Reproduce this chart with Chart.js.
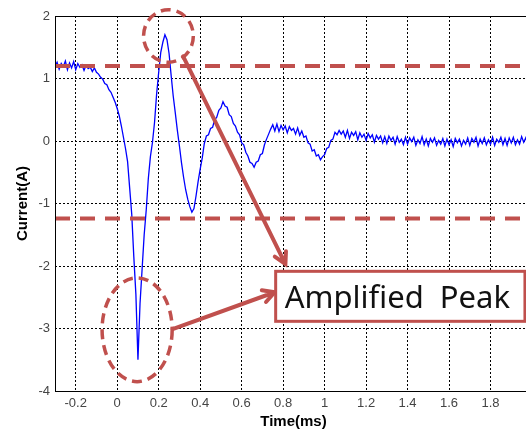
<!DOCTYPE html>
<html>
<head>
<meta charset="utf-8">
<script src="https://cdn.jsdelivr.net/npm/chart.js@4.4.0/dist/chart.umd.min.js"></script>
<style>
  html, body { margin: 0; padding: 0; background: #fff; overflow: hidden; }
  canvas { display: block; }
</style>
</head>
<body>
<canvas id="currentChart" width="540" height="434"></canvas>
<script>
// sampling grid of the trace (ms)
const tStart = -0.30;
const tStep = 0.01;

// Current(A), one value per sample
const current = [
  1.20, 1.26, 1.15, 1.24, 1.19, 1.28, 1.14, 1.25, 1.17, 1.27,
  1.14, 1.24, 1.18, 1.22, 1.13, 1.21, 1.16, 1.18, 1.11, 1.17,
  1.10, 1.07, 1.02, 0.99, 0.92, 0.90, 0.82, 0.78, 0.70, 0.62,
  0.52, 0.40, 0.24, 0.06, -0.12, -0.33, -0.75, -1.17, -1.85, -2.45,
  -3.50, -2.60, -2.05, -1.50, -1.10, -0.60, -0.25, -0.02, 0.30, 0.75,
  1.10, 1.42, 1.58, 1.70, 1.62, 1.40, 1.05, 0.72, 0.45, 0.17,
  -0.08, -0.35, -0.58, -0.78, -0.93, -1.05, -1.14, -1.08, -0.88, -0.65,
  -0.45, -0.27, -0.04, 0.08, 0.10, 0.20, 0.22, 0.34, 0.38, 0.49,
  0.53, 0.63, 0.56, 0.54, 0.42, 0.39, 0.28, 0.24, 0.14, 0.10,
  -0.03, -0.06, -0.18, -0.24, -0.34, -0.36, -0.42, -0.34, -0.32, -0.22,
  -0.20, -0.06, 0.03, 0.11, 0.19, 0.26, 0.16, 0.27, 0.15, 0.25,
  0.18, 0.24, 0.13, 0.23, 0.17, 0.20, 0.11, 0.21, 0.09, 0.16,
  0.06, 0.08, -0.03, -0.05, -0.16, -0.14, -0.24, -0.22, -0.30, -0.25,
  -0.22, -0.12, -0.10, 0.01, 0.03, 0.14, 0.10, 0.17, 0.11, 0.16,
  0.06, 0.17, 0.04, 0.14, 0.09, 0.15, 0.02, 0.13, 0.06, 0.11,
  0.01, 0.12, 0.05, 0.10, -0.02, 0.09, 0.03, 0.08, -0.03, 0.07,
  -0.04, 0.08, 0.01, 0.06, -0.05, 0.07, -0.02, 0.03, -0.06, 0.06,
  -0.05, 0.05, -0.01, 0.06, -0.07, 0.02, -0.04, 0.07, -0.06, 0.03,
  -0.08, 0.04, -0.02, 0.05, -0.07, 0.01, -0.05, 0.04, -0.08, 0.03,
  -0.06, 0.02, -0.09, 0.04, -0.03, 0.03, -0.08, 0.01, -0.05, 0.05,
  -0.07, 0.04, -0.02, 0.06, -0.08, 0.03, -0.04, 0.05, -0.06, 0.02,
  -0.05, 0.06, -0.07, 0.03, -0.02, 0.06, -0.06, 0.04, -0.07, 0.05,
  -0.03, 0.06, -0.06, 0.02, -0.05, 0.07, -0.02, 0.05, -0.06, 0.04,
  -0.01
];

// threshold levels (dashed red lines)
const limits = [1.2, -1.24];

// tick labels
const xTicks = [-0.2, 0, 0.2, 0.4, 0.6, 0.8, 1, 1.2, 1.4, 1.6, 1.8];
const yTicks = [-4, -3, -2, -1, 0, 1, 2];

const xMin = -0.3, xMax = 2.0;
const red = '#c0504d';

const trace = current.map((v, i) => ({ x: +(tStart + i * tStep).toFixed(2), y: v }));

// annotation shapes, in data units
const notes = {
  topRing: { x: 0.247, y: 1.68, rx: 0.12, ry: 0.42 },
  lowRing: { x: 0.096, y: -3.02, rx: 0.169, ry: 0.83 },
  arrows: [
    { x0: 0.318, y0: 1.355, x1: 0.811, y1: -1.97 },
    { x0: 0.267, y0: -3.01, x1: 0.759, y1: -2.42 }
  ],
  box: { x0: 0.764, x1: 1.966, y0: -2.085, y1: -2.885, label: 'Amplified Peak' }
};

const markup = {
  id: 'markup',
  afterDatasetsDraw(chart) {
    const { ctx, chartArea: a, scales: { x, y } } = chart;
    const px = v => x.getPixelForValue(v);
    const py = v => y.getPixelForValue(v);
    ctx.save();

    // axes frame
    ctx.setLineDash([]);
    ctx.strokeStyle = '#000';
    ctx.lineWidth = 1;
    ctx.strokeRect(Math.round(a.left) + 0.5, Math.round(a.top) + 0.5, a.width, a.height);

    ctx.strokeStyle = red;

    // dashed rings
    ctx.lineWidth = 3.5;
    ctx.setLineDash([10, 6]);
    [notes.topRing, notes.lowRing].forEach(r => {
      const cx = px(r.x), cy = py(r.y);
      const rx = px(r.x + r.rx) - cx, ry = cy - py(r.y + r.ry);
      ctx.beginPath();
      ctx.ellipse(cx, cy, rx, ry, 0, 0, Math.PI * 2);
      ctx.stroke();
    });

    // arrows
    ctx.setLineDash([]);
    ctx.lineWidth = 4;
    ctx.lineCap = 'round';
    notes.arrows.forEach(ar => {
      const x0 = px(ar.x0), y0 = py(ar.y0), x1 = px(ar.x1), y1 = py(ar.y1);
      const ang = Math.atan2(y1 - y0, x1 - x0);
      ctx.beginPath();
      ctx.moveTo(x0, y0);
      ctx.lineTo(x1, y1);
      ctx.moveTo(x1 - 13 * Math.cos(ang - 0.5), y1 - 13 * Math.sin(ang - 0.5));
      ctx.lineTo(x1, y1);
      ctx.lineTo(x1 - 13 * Math.cos(ang + 0.5), y1 - 13 * Math.sin(ang + 0.5));
      ctx.stroke();
    });

    // label box
    const b = notes.box;
    const bx = px(b.x0), by = py(b.y0), bw = px(b.x1) - bx, bh = py(b.y1) - by;
    ctx.fillStyle = '#fff';
    ctx.fillRect(bx, by, bw, bh);
    ctx.lineWidth = 3;
    ctx.lineCap = 'butt';
    ctx.strokeRect(bx, by, bw, bh);
    ctx.fillStyle = '#111';
    ctx.font = '31px "Noto Sans"';
    ctx.wordSpacing = '8px';
    ctx.textAlign = 'center';
    ctx.textBaseline = 'alphabetic';
    ctx.fillText(b.label, bx + bw / 2 - 3, by + bh / 2 + 11.5);

    ctx.restore();
  }
};

const tickFont = { family: '"Liberation Sans", Arial, sans-serif', size: 13 };
const titleFont = { family: '"Liberation Sans", Arial, sans-serif', size: 15, weight: 'bold' };

new Chart(document.getElementById('currentChart'), {
  type: 'line',
  data: {
    datasets: [
      ...limits.map(v => ({
        data: [{ x: xMin, y: v }, { x: xMax, y: v }],
        borderColor: red,
        borderWidth: 4,
        borderDash: [15, 10],
        pointRadius: 0,
        fill: false
      })),
      {
        data: trace,
        borderColor: '#0000ff',
        borderWidth: 1.3,
        pointRadius: 0,
        tension: 0,
        fill: false
      }
    ]
  },
  options: {
    responsive: false,
    animation: false,
    layout: { padding: { top: 16, right: 8, left: 0, bottom: 0 } },
    plugins: { legend: { display: false }, tooltip: { enabled: false } },
    scales: {
      x: {
        type: 'linear',
        min: xMin,
        max: xMax,
        afterBuildTicks: s => { s.ticks = xTicks.map(v => ({ value: v })); },
        afterFit: s => { s.height = 43; },
        grid: { color: '#000', lineWidth: 1, drawTicks: false },
        border: { display: false, dash: [2, 2] },
        ticks: {
          color: '#444',
          font: tickFont,
          padding: 5,
          maxRotation: 0,
          autoSkip: false,
          callback: v => String(Number(v.toFixed(2)))
        },
        title: { display: true, text: 'Time(ms)', color: '#000', font: titleFont, padding: { top: 0, bottom: 3 } }
      },
      y: {
        min: -4,
        max: 2,
        afterBuildTicks: s => { s.ticks = yTicks.map(v => ({ value: v })); },
        afterFit: s => { s.width = 55; },
        grid: { color: '#000', lineWidth: 1, drawTicks: false },
        border: { display: false, dash: [2, 2] },
        ticks: { color: '#444', font: tickFont, padding: 5, autoSkip: false },
        title: { display: true, text: 'Current(A)', color: '#000', font: titleFont, padding: { top: 14, bottom: 0 } }
      }
    }
  },
  plugins: [markup]
});
</script>
</body>
</html>
